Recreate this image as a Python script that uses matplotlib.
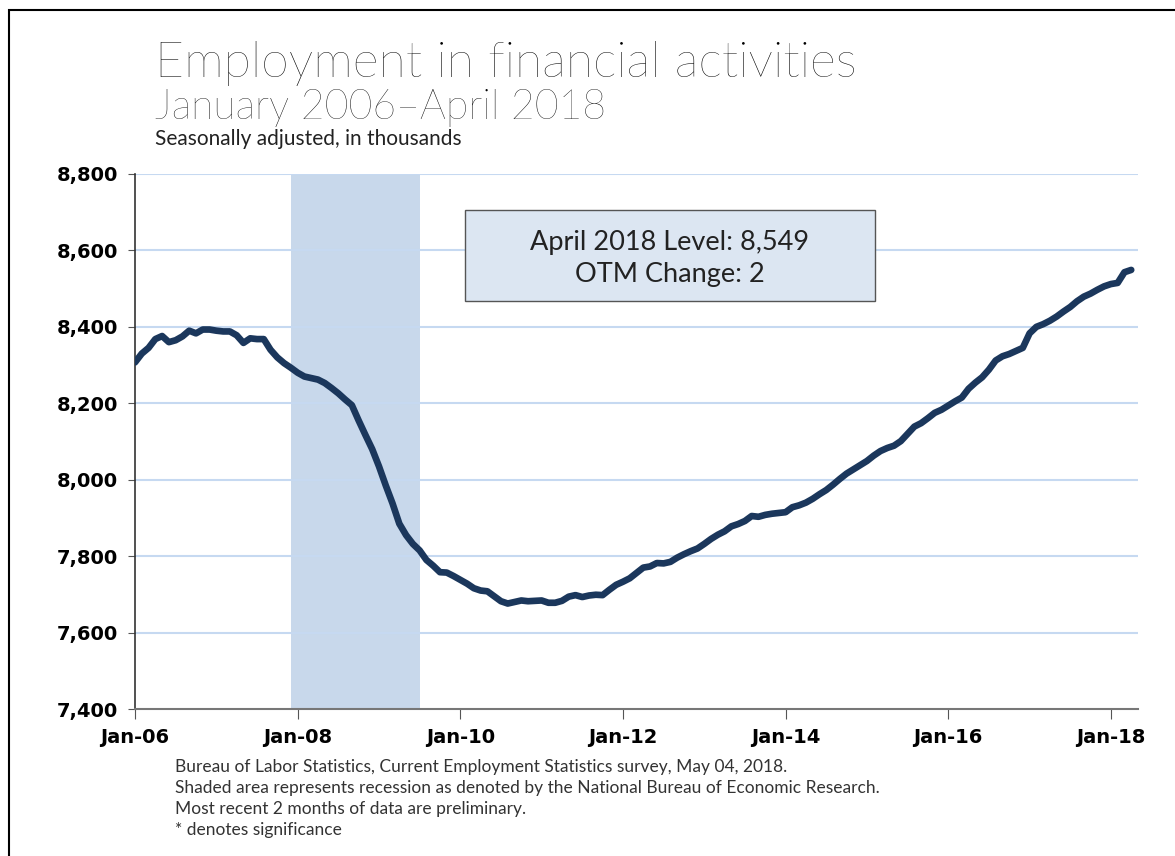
import numpy as np
import matplotlib.pyplot as plt
from matplotlib.patches import Rectangle

# Financial activities employment, thousands, Jan 2006 - Apr 2018 (monthly)
emp_2006 = [8307, 8330, 8345, 8368, 8376, 8360, 8365, 8375, 8390, 8383, 8393, 8393]
emp_2007 = [8390, 8388, 8388, 8378, 8358, 8370, 8368, 8368, 8340, 8320, 8305, 8293]
emp_2008 = [8280, 8270, 8266, 8262, 8253, 8240, 8226, 8210, 8195, 8155, 8117, 8080]
emp_2009 = [8035, 7985, 7938, 7885, 7855, 7832, 7815, 7790, 7775, 7758, 7757, 7748]
emp_2010 = [7738, 7728, 7716, 7710, 7708, 7695, 7682, 7676, 7680, 7684, 7682, 7683]
emp_2011 = [7684, 7678, 7678, 7683, 7694, 7698, 7693, 7697, 7699, 7698, 7712, 7725]
emp_2012 = [7733, 7742, 7756, 7770, 7773, 7782, 7781, 7785, 7796, 7805, 7813, 7820]
emp_2013 = [7832, 7845, 7856, 7865, 7878, 7884, 7892, 7905, 7903, 7908, 7911, 7913]
emp_2014 = [7915, 7928, 7933, 7940, 7950, 7962, 7973, 7987, 8002, 8016, 8027, 8038]
emp_2015 = [8049, 8063, 8075, 8083, 8089, 8101, 8120, 8139, 8148, 8161, 8175, 8183]
emp_2016 = [8194, 8205, 8215, 8238, 8254, 8268, 8288, 8312, 8323, 8329, 8337, 8345]
emp_2017 = [8383, 8400, 8407, 8416, 8427, 8440, 8452, 8467, 8479, 8487, 8497, 8506]
emp_2018 = [8512, 8515, 8543, 8549]

employment = (emp_2006 + emp_2007 + emp_2008 + emp_2009 + emp_2010 + emp_2011 +
              emp_2012 + emp_2013 + emp_2014 + emp_2015 + emp_2016 + emp_2017 + emp_2018)

# recession Dec 2007 - Jun 2009, as month index from Jan 2006
recession = (23, 42)

xtick_pos = [0, 24, 48, 72, 96, 120, 144]
xtick_labels = ["Jan-06", "Jan-08", "Jan-10", "Jan-12", "Jan-14", "Jan-16", "Jan-18"]
ytick_vals = [7400, 7600, 7800, 8000, 8200, 8400, 8600, 8800]

line_color = "#1b375c"
shade_color = "#c8d8eb"
grid_color = "#c6d9f1"
thin = ["Lato", "DejaVu Sans"]

fig = plt.figure(figsize=(11.75, 8.56), dpi=100)

# outer frame (open on right and bottom)
fig.add_artist(Rectangle((9 / 1175, -0.1), 1.2, 1 - 10 / 856 + 0.1,
                         transform=fig.transFigure, fill=False,
                         edgecolor="black", linewidth=1.5))

ax = fig.add_axes([135 / 1175, 1 - 709 / 856, (1138 - 135) / 1175, (709 - 174) / 856])

months = np.arange(len(employment))
ax.axvspan(recession[0], recession[1], color=shade_color, zorder=0, linewidth=0)
for v in ytick_vals[1:]:
    ax.axhline(v, color=grid_color, linewidth=1.5, zorder=1)
ax.plot(months, employment, color=line_color, linewidth=4.8,
        solid_capstyle="round", solid_joinstyle="round", zorder=3)

ax.set_xlim(0, 148)
ax.set_ylim(7400, 8800)
ax.set_xticks(xtick_pos)
ax.set_xticklabels(xtick_labels)
ax.set_yticks(ytick_vals)
ax.set_yticklabels([f"{v:,}" for v in ytick_vals])

for lab in ax.get_xticklabels() + ax.get_yticklabels():
    lab.set_fontweight("bold")
    lab.set_fontsize(14)
    lab.set_family("DejaVu Sans")

ax.tick_params(axis="y", length=5, color="#555555", pad=7)
ax.tick_params(axis="x", length=7, color="#555555", pad=7)
ax.spines["top"].set_visible(False)
ax.spines["right"].set_visible(False)
ax.spines["left"].set_color("#333333")
ax.spines["bottom"].set_color("#777777")
ax.spines["left"].set_linewidth(1.2)
ax.spines["bottom"].set_linewidth(1.5)

# info box
ax.add_patch(Rectangle((0.329, 0.763), 0.409, 0.170, transform=ax.transAxes,
                       facecolor="#dce6f2", edgecolor="#555555", linewidth=1, zorder=4))
ax.text(0.533, 0.872, "April 2018 Level: 8,549", transform=ax.transAxes,
        ha="center", va="center", fontsize=19.5, color="#222222", family=thin, zorder=5)
ax.text(0.533, 0.812, "OTM Change: 2", transform=ax.transAxes,
        ha="center", va="center", fontsize=19.5, color="#222222", family=thin, zorder=5)

# titles
fig.text(155 / 1175, 1 - 77 / 856, "Employment in financial activities", fontsize=36,
         family=thin, fontweight="light", color="black")
fig.text(155 / 1175, 1 - 119 / 856, "January 2006\u2013April 2018", fontsize=29.5,
         family=thin, fontweight="light", color="black")
fig.text(155 / 1175, 1 - 145 / 856, "Seasonally adjusted, in thousands", fontsize=15,
         family=thin, color="#222222")

notes = ["Bureau of Labor Statistics, Current Employment Statistics survey, May 04, 2018.",
         "Shaded area represents recession as denoted by the National Bureau of Economic Research.",
         "Most recent 2 months of data are preliminary.",
         "* denotes significance"]
for i, n in enumerate(notes):
    fig.text(175 / 1175, 1 - (772 + 21 * i) / 856, n, fontsize=12.5,
             family=thin, color="#333333")

plt.savefig("out.png", dpi=100)
